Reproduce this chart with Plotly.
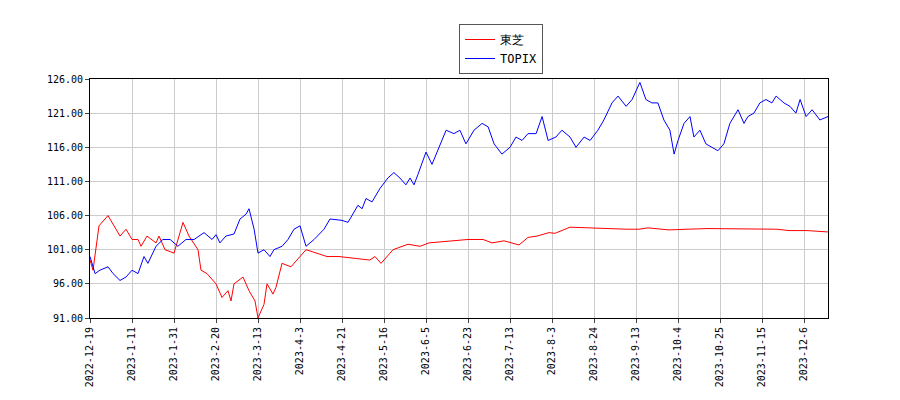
import plotly.graph_objects as go

tick_labels = ["2022-12-19","2023-1-11","2023-1-31","2023-2-20","2023-3-13","2023-4-3","2023-4-21",
               "2023-5-16","2023-6-5","2023-6-23","2023-7-13","2023-8-3","2023-8-24","2023-9-13",
               "2023-10-4","2023-10-25","2023-11-15","2023-12-6"]

# trading-day index and values
toshiba_day = [0,1,3,6,10,12,14,16,17,19,22,23,24,25,28,31,33,36,37,39,42,44,46,47,48,51,53,55,56,58,59,61,62,64,67,70,72,79,83,93,93.3,95,97,101,106,110,113,126,131,134,138,143,146,149,153,155,160,179,183,186,193,199,206,229,233,239,246]
toshiba_val = [99.5,98,104.5,106,103,104,102.5,102.5,101.5,103,102,103,102,101,100.5,105,103,101,98,97.5,96,94,95,93.5,96,97,95,93.5,91,93,96,94.5,95.5,99,98.5,100,101,100,100,99.5,99.5,100,99,101,101.8,101.5,102,102.5,102.5,102,102.3,101.7,102.8,103,103.5,103.4,104.3,104,104,104.2,103.9,104,104.1,104,103.8,103.8,103.6]
topix_day = [0,1.7,3.3,6,7.7,10,12,14,16,18,19.3,22,24.3,26.7,29.3,32,34.7,38,40.7,42,43.3,45.3,48,50,52,53,54.7,56,58,60,61.3,64,66,68,70,72,74.7,78,80,84,86,89.3,90.7,92,94,96.7,99.3,101.3,103.3,105.3,106.7,108,109.3,112,114,116.7,118.7,121.3,123.3,125.3,128,130.7,132.7,134.7,137.3,140,142,144,146,148.7,150.7,152.7,155.3,157.3,160,162,164.7,166.7,169.3,171.3,174,176,178.7,180.7,183.3,185.3,187.3,189.3,191.3,193.3,194.7,196,198,200,201.3,203.3,205.3,207.3,209.3,211.3,213.3,216,218,219.3,221.3,223.3,225.3,227.3,228.7,231.3,233.3,235.3,236.7,238.7,240.7,243.3,246]
topix_val = [100,97.5,98,98.5,97.5,96.5,97,98,97.5,100,99,101.5,102.5,102.5,101.5,102.5,102.5,103.5,102.5,103.2,102,103,103.3,105.5,106.2,107,104,100.5,101,100,101,101.5,102.5,104,104.5,101.5,102.5,104,105.5,105.3,105,107.5,107,108.5,108,110,111.5,112.3,111.5,110.5,111.5,110.5,112,115.3,113.5,116.5,118.5,118,118.5,116.5,118.5,119.5,119,116.5,115,116,117.5,117,118,118,120.5,117,117.5,118.5,117.5,116,117.5,117,118.5,120,122.5,123.5,122,123,125.5,123,122.5,122.5,120,118.5,115,117,119.5,120.5,117.5,118.5,116.5,116,115.5,116.5,119.5,121.5,119.5,120.5,121,122.5,123,122.5,123.5,122.5,122,121,123,120.5,121.5,120,120.5]

fig = go.Figure()
fig.add_trace(go.Scatter(x=toshiba_day, y=toshiba_val, mode="lines", name="東芝", line=dict(color="red", width=1)))
fig.add_trace(go.Scatter(x=topix_day, y=topix_val, mode="lines", name="TOPIX", line=dict(color="blue", width=1)))
fig.update_layout(
    width=900, height=400, plot_bgcolor="white", paper_bgcolor="white",
    margin=dict(l=82, r=80, t=71, b=90, autoexpand=False),
    font=dict(family="DejaVu Sans Mono", size=10, color="#000"),
    legend=dict(x=0.557, xanchor="center", yref="container", y=0.96, yanchor="top",
                bordercolor="#555", borderwidth=1, font=dict(size=12), tracegroupgap=0),
    showlegend=True,
)
fig.update_xaxes(range=[0, 246], tickvals=[i*14 for i in range(len(tick_labels))], ticktext=tick_labels,
                 tickangle=-90, showgrid=True, gridcolor="#ccc", showline=True, linecolor="#000",
                 mirror=True, ticks="outside", ticklen=4, zeroline=False, automargin=False)
fig.update_yaxes(range=[91, 126], tickvals=[91,96,101,106,111,116,121,126], tickformat=".2f",
                 showgrid=True, gridcolor="#ccc", showline=True, linecolor="#000", mirror=True,
                 ticks="outside", ticklen=4, zeroline=False, automargin=False)
fig.write_html("out.html")
